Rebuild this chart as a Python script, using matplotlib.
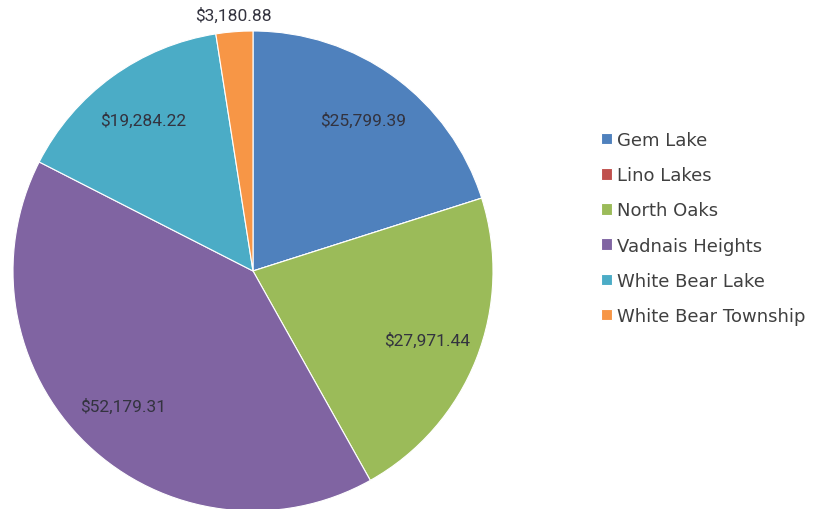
import numpy as np
import matplotlib
matplotlib.use("Agg")
from matplotlib import pyplot as plt

# data
cities = ["Gem Lake", "Lino Lakes", "North Oaks", "Vadnais Heights",
          "White Bear Lake", "White Bear Township"]
amounts = [25799.39, 0.0, 27971.44, 52179.31, 19284.22, 3180.88]
colors = ["#4F81BD", "#C0504D", "#9BBB59", "#8064A2", "#4BACC6", "#F79646"]

fig = plt.figure(figsize=(8.24, 5.10), dpi=100)
ax = fig.add_axes([13/824, -2/510, 480/824, 480/510])

wedges, _ = ax.pie(amounts, colors=colors, startangle=90, counterclock=False,
                   radius=1.0, wedgeprops=dict(edgecolor="white", linewidth=0.8))
ax.set_xlim(-1, 1)
ax.set_ylim(-1, 1)
ax.set_aspect("equal")
ax.axis("off")

label_font = ["Roboto", "DejaVu Sans"]
total = sum(amounts)
for w, val in zip(wedges, amounts):
    if val <= 0:
        continue
    mid = np.deg2rad((w.theta1 + w.theta2) / 2)
    dist = 0.78 if val / total > 0.05 else 1.07
    ax.text(dist * np.cos(mid), dist * np.sin(mid), "${:,.2f}".format(val),
            ha="center", va="center", fontsize=12.5, color="#33333f",
            family=label_font, clip_on=False)

fig.legend(wedges, cities, loc="center left", bbox_to_anchor=(585/824, 281/510),
           frameon=False, fontsize=13, handlelength=0.6, handleheight=0.6,
           handletextpad=0.25, labelspacing=0.95, labelcolor="#404040")

plt.savefig("out.png", dpi=100)
